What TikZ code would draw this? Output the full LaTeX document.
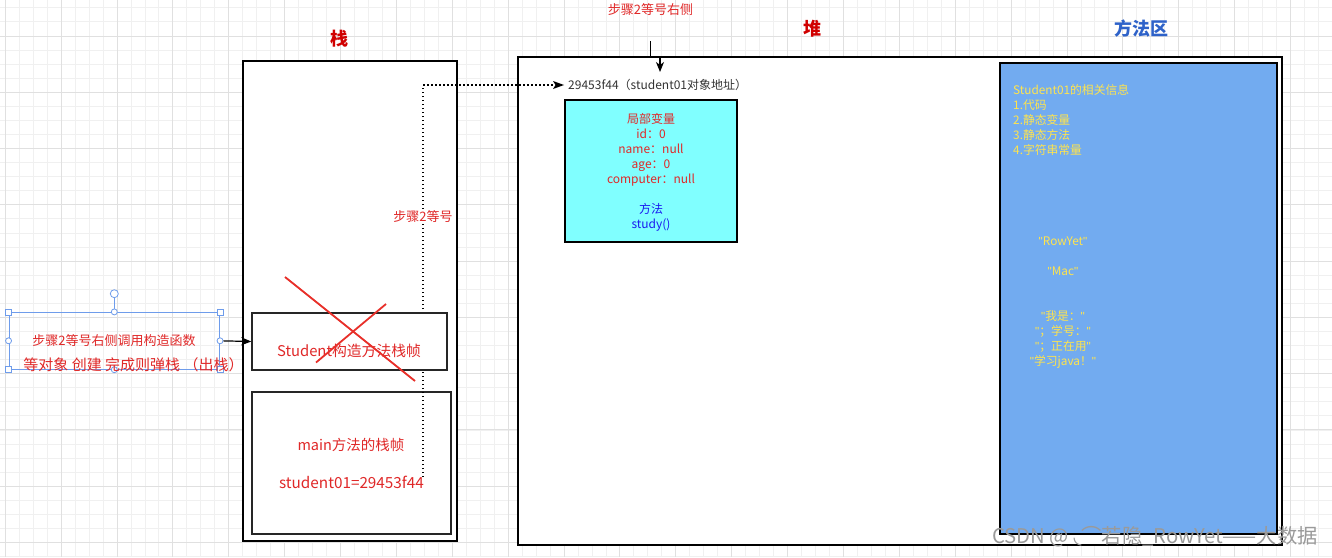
\documentclass[tikz,border=0pt]{standalone}
\usepackage{fontspec}
\setmainfont{Noto Sans CJK SC}
\newfontfamily\latf{Liberation Sans}
\newfontfamily\djv{DejaVu Sans}
\newcommand{\qq}{{\latf"}}
\usetikzlibrary{arrows.meta}
\definecolor{txtred}{HTML}{E02828}
\definecolor{hdred}{HTML}{D00000}
\definecolor{hdblue}{HTML}{2E62C9}
\definecolor{stblue}{HTML}{1A1AF0}
\definecolor{yel}{HTML}{FFE44D}
\definecolor{mblue}{HTML}{72ABF0}
\definecolor{cyanf}{HTML}{80FFFF}
\definecolor{selblue}{HTML}{6E9CEB}
\definecolor{gridmin}{HTML}{F0F0F0}
\definecolor{gridmaj}{HTML}{E0E0E0}
\definecolor{xred}{HTML}{E8302A}
\definecolor{addrgray}{HTML}{333333}
\definecolor{wmgray}{HTML}{9A9A9A}
\tikzset{
  gmin/.style={draw=gridmin, line width=1pt},
  gmaj/.style={draw=gridmaj, line width=1pt},
  bigbox/.style={draw=black, line width=1.5pt, fill=white, inner sep=0pt},
  framebox/.style={draw=black!85, line width=1.5pt, inner sep=0pt},
  arr/.style={-{Stealth[length=10pt,width=8pt,inset=3pt]}, line width=1.2pt, draw=black},
  dotline/.style={draw=black, line width=1.5pt, dash pattern=on 1.5pt off 2.5pt},
  heading/.style={font=\fontsize{18}{20}\selectfont\bfseries, inner sep=0pt},
  redtxt/.style={text=txtred, inner sep=0pt, align=center},
  yeltxt/.style={text=yel, inner sep=0pt, font=\fontsize{11.8}{15}\selectfont},
  selsq/.style={draw=selblue, fill=white, line width=0.8pt, minimum size=6pt, inner sep=0pt},
  selci/.style={draw=selblue, fill=white, line width=0.8pt, circle, minimum size=6pt, inner sep=0pt},
  xline/.style={draw=xred, line width=1.8pt},
}
\begin{document}
\begin{tikzpicture}[x=1pt,y=-1pt]
\useasboundingbox (0,0) rectangle (1332,557);
\fill[white] (0,0) rectangle (1332,557);
% grid
\foreach \i in {0,...,95} \draw[gmin] ({5.3+13.97*\i},0) -- ++(0,557);
\foreach \j in {0,...,39} \draw[gmin] (0,{7.9+14.07*\j}) -- ++(1332,0);
\foreach \i in {0,...,23} \draw[gmaj] ({5.3+55.88*\i},0) -- ++(0,557);
\foreach \k in {0,...,9} \draw[gmaj] (0,{36+56.28*\k}) -- ++(1332,0);

% headings
\node[heading, text=hdred] (hstack) at (339,39) {栈};
\node[heading, text=hdred] (hheap) at (812,29) {堆};
\node[heading, text=hdblue] (hmeth) at (1141,29) {方法区};

% big boxes
\node[bigbox, minimum width=214pt, minimum height=480pt] (stack) at (350,301) {};
\node[bigbox, minimum width=764pt, minimum height=488pt] (heap) at (900,301) {};
\node[bigbox, fill=mblue, minimum width=277pt, minimum height=471pt] (meth) at (1138.5,298.5) {};
\node[bigbox, fill=cyanf, minimum width=172pt, minimum height=142pt] (obj) at (651,171) {};

% main frame (unfilled so the dotted line shows inside)
\node[framebox, minimum width=199pt, minimum height=142pt] (mainf) at (351.5,463) {};
\node[redtxt, font=\fontsize{14.5}{16}\selectfont] (maint) at (351,445) {main方法的栈帧};
\node[redtxt, font=\fontsize{15.3}{17}\selectfont] (mainv) at (351.5,482) {student01=29453f44};

% address text
\node[anchor=west, inner sep=0pt, text=addrgray, font=\fontsize{12}{14}\selectfont] (addr) at (568,85) {29453f44（student01对象地址）};

% dotted reference
\coordinate (dstart) at (423,477);
\coordinate (dend) at (564,85);
\draw[dotline] (dstart) |- ([xshift=-10pt]dend);
\fill[black] (dend) -- ++(-11,-4) -- ++(2.5,4) -- ++(-2.5,4) -- cycle;
\node[redtxt, fill=white, inner sep=1pt, font=\fontsize{13}{15}\selectfont] (lbl2) at (423,216.5) {步骤2等号};

% student frame
\node[framebox, fill=white, minimum width=195pt, minimum height=57pt] (sframe) at (349.5,341.5) {};
\node[redtxt, font=\fontsize{14.8}{16}\selectfont] (stext) at (349,351) {Student构造方法栈帧};

% red X
\coordinate (xa1) at (285,277);
\coordinate (xa2) at (415,381);
\coordinate (xb1) at (316,362.5);
\coordinate (xb2) at (386,304);
\draw[xline] (xa1) -- (xa2);
\draw[xline] (xb1) -- (xb2);

% object contents
\node[redtxt, font=\fontsize{12}{15}\selectfont] (objvars) at (651,149.5) {局部变量\\id：0\\name：null\\age：0\\computer：null};
\node[inner sep=0pt, align=center, text=stblue, font=\fontsize{12}{15}\selectfont] (objm) at (651,217) {方法\\study()};

% method area contents
\node[yeltxt, anchor=west, align=left] (minfo) at (1013,119.5) {Student01的相关信息\\1.代码\\2.静态变量\\3.静态方法\\4.字符串常量};
\node[yeltxt] (s1) at (1063,241.5) {\qq RowYet\qq};
\node[yeltxt] (s2) at (1063,271) {\qq Mac\qq};
\node[yeltxt, align=center] (s3) at (1063,339.5) {\qq 我是：\qq\\\qq；学号：\qq\\\qq；正在用\qq\\\qq 学习java！\qq};

% step 2 right side arrow
\node[redtxt, font=\fontsize{13}{15}\selectfont] (step2r) at (650.5,10) {步骤2等号右侧};
\coordinate (s2a) at (650.7,41);
\coordinate (s2b) at (660,72);
\draw[arr] (s2a) -- (650.7,57) -- (660,57) -- (s2b);

% selected text box
\node[draw=selblue, line width=0.8pt, minimum width=210.7pt, minimum height=57pt, inner sep=0pt] (sel) at (114.3,340.8) {};
\node[redtxt, font=\fontsize{13}{15}\selectfont] (seltxt1) at (114,341) {步骤2等号右侧调用构造函数};
\node[selci, minimum size=8pt] (hrot) at (114.3,293.7) {};
\draw[draw=selblue, line width=0.8pt] (hrot) -- (sel.north);
\node[selsq] at (sel.north west) {};
\node[selsq] at (sel.north east) {};
\node[selsq] at (sel.south west) {};
\node[selsq] at (sel.south east) {};
\node[selci] at (sel.north) {};
\node[selci] at (sel.south) {};
\node[selci] at (sel.west) {};
\node[selci] (hR) at (sel.east) {};
\node[redtxt, font=\fontsize{15}{17}\selectfont] (seltxt2) at (133.5,365) {等对象 创建 完成则弹栈 （出栈）};
\draw[arr] (hR) -- (sframe.west);

% watermark
\node[anchor=west, inner sep=0pt, text=wmgray, font=\fontsize{20.3}{22}\selectfont] (wm) at (992,537) {CSDN @ {\djv ◟}⌒若隐\_RowYet——大数据};
\end{tikzpicture}
\end{document}
